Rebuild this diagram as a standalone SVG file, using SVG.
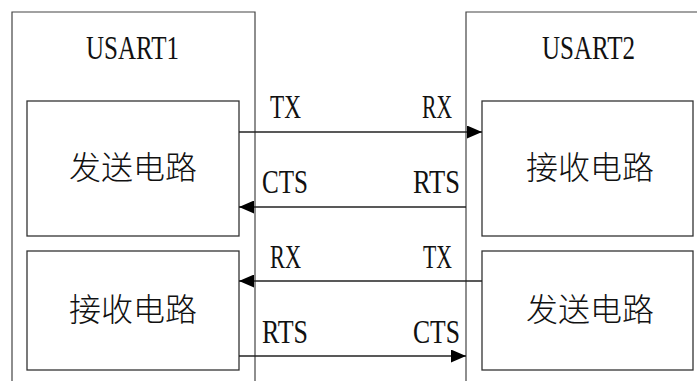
<svg xmlns="http://www.w3.org/2000/svg" width="697" height="381" viewBox="0 0 697 381">
<style>
.box{fill:none;stroke:#333;stroke-width:1.3}
.frame{fill:none;stroke:#444;stroke-width:1.2}
.wire{fill:none;stroke:#222;stroke-width:1.3}
.lat{font-family:"Liberation Serif","Times New Roman",serif;font-size:33px;fill:#111}
.cjk{font-family:"Noto Sans CJK SC","Noto Sans",sans-serif;font-size:32px;font-weight:300;fill:#111;text-anchor:middle}
</style>
<defs>
<marker id="ah" viewBox="0 0 15 13" refX="15" refY="6.5" markerWidth="15" markerHeight="13" markerUnits="userSpaceOnUse" orient="auto">
<path d="M0,0 L15,6.5 L0,13 Z" fill="#000"/>
</marker>
</defs>
<rect width="697" height="381" fill="#fff"/>
<g id="usart1">
<path class="frame" d="M12,382 V12 H255 V382"/>
<text class="lat" x="86" y="59" textLength="93" lengthAdjust="spacingAndGlyphs">USART1</text>
</g>
<g id="usart2">
<path class="frame" d="M466,382 V12 H698"/>
<text class="lat" x="542" y="59" textLength="93" lengthAdjust="spacingAndGlyphs">USART2</text>
</g>
<g id="tx1">
<rect class="box" x="27" y="101" width="212" height="135"/>
<text class="cjk" x="133" y="179">发送电路</text>
</g>
<g id="rx1">
<rect class="box" x="27" y="251" width="212" height="119"/>
<text class="cjk" x="133" y="321">接收电路</text>
</g>
<g id="rx2">
<rect class="box" x="482" y="101" width="211" height="135"/>
<text class="cjk" x="590" y="179">接收电路</text>
</g>
<g id="tx2">
<rect class="box" x="482" y="251" width="211" height="119"/>
<text class="cjk" x="590" y="321">发送电路</text>
</g>
<g id="connectors">
<line class="wire" x1="239" y1="132" x2="482" y2="132" marker-end="url(#ah)"/>
<line class="wire" x1="466" y1="207" x2="239" y2="207" marker-end="url(#ah)"/>
<line class="wire" x1="482" y1="281" x2="239" y2="281" marker-end="url(#ah)"/>
<line class="wire" x1="239" y1="356" x2="466" y2="356" marker-end="url(#ah)"/>
</g>
<g id="labels">
<text class="lat" x="270" y="118" textLength="31" lengthAdjust="spacingAndGlyphs">TX</text>
<text class="lat" x="422" y="118" textLength="30" lengthAdjust="spacingAndGlyphs">RX</text>
<text class="lat" x="262" y="193" textLength="46" lengthAdjust="spacingAndGlyphs">CTS</text>
<text class="lat" x="413" y="193" textLength="47" lengthAdjust="spacingAndGlyphs">RTS</text>
<text class="lat" x="270" y="268" textLength="31" lengthAdjust="spacingAndGlyphs">RX</text>
<text class="lat" x="423" y="268" textLength="29" lengthAdjust="spacingAndGlyphs">TX</text>
<text class="lat" x="262" y="343" textLength="46" lengthAdjust="spacingAndGlyphs">RTS</text>
<text class="lat" x="413" y="343" textLength="47" lengthAdjust="spacingAndGlyphs">CTS</text>
</g>
</svg>
